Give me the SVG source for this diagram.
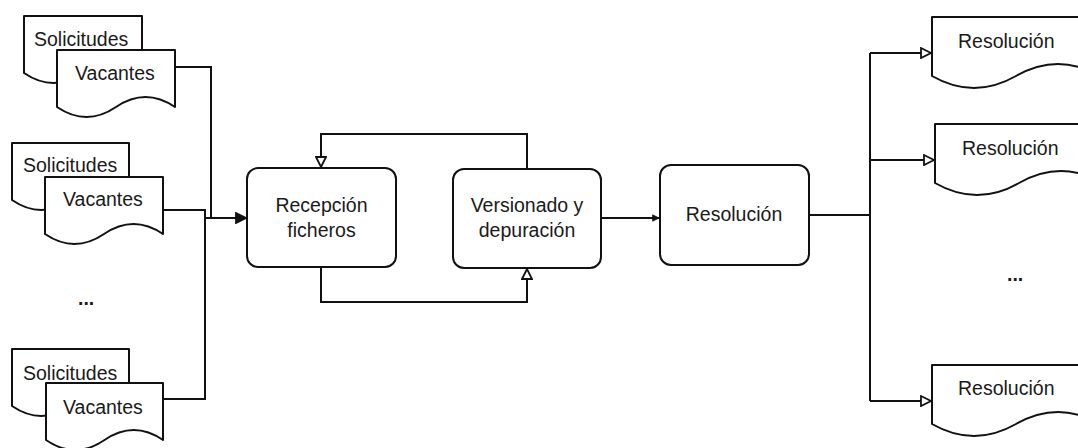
<svg xmlns="http://www.w3.org/2000/svg" width="1078" height="448" viewBox="0 0 1078 448">
  <defs>
    <style>
      .shape { fill: #ffffff; stroke: #111111; stroke-width: 2; stroke-linejoin: round; }
      .sk { fill: none; stroke: #111111; stroke-width: 1; opacity: 0.6; }
      .edge { fill: none; stroke: #111111; stroke-width: 2; }
      .lbl { font-family: "Liberation Sans", Arial, sans-serif; font-size: 19.5px; fill: #1a1a1a; }
      .dots { font-family: "Liberation Sans", Arial, sans-serif; font-size: 19.5px; font-weight: bold; fill: #1a1a1a; }
    </style>
    <marker id="open" viewBox="0 0 12 12" refX="11" refY="6" markerWidth="12" markerHeight="12" markerUnits="userSpaceOnUse" orient="auto">
      <path d="M1,1 L11,6 L1,11 Z" fill="#ffffff" stroke="#111111" stroke-width="1.8"/>
    </marker>
    <marker id="solid" viewBox="0 0 12 12" refX="11" refY="6" markerWidth="12" markerHeight="12" markerUnits="userSpaceOnUse" orient="auto">
      <path d="M1,1 L11,6 L1,11 Z" fill="#111111" stroke="#111111" stroke-width="1.8"/>
    </marker>
    <marker id="small" viewBox="0 0 10 10" refX="9" refY="5" markerWidth="8" markerHeight="8" markerUnits="userSpaceOnUse" orient="auto">
      <path d="M1,1 L9,5 L1,9 Z" fill="#111111" stroke="#111111" stroke-width="1"/>
    </marker>
  </defs>

  <!-- Left document groups -->
  <g id="sol1">
    <path class="shape" d="M24,16 L142,16 L142,73 Q112.5,53 83,73 Q53.5,93 24,73 Z"/>
    <text class="lbl" x="34" y="46">Solicitudes</text>
  </g>
  <g id="vac1">
    <path class="shape" d="M57,50 L175,50 L175,107 Q145.5,87 116,107 Q86.5,127 57,107 Z"/>
    <text class="lbl" x="75" y="80">Vacantes</text>
  </g>

  <g id="sol2">
    <path class="shape" d="M12,143 L129,143 L129,200 Q99.75,180 70.5,200 Q41.25,220 12,200 Z"/>
    <text class="lbl" x="23" y="172">Solicitudes</text>
  </g>
  <g id="vac2">
    <path class="shape" d="M45,177 L163,177 L163,234 Q133.5,214 104,234 Q74.5,254 45,234 Z"/>
    <text class="lbl" x="63" y="206">Vacantes</text>
  </g>

  <g id="dotsLeft">
    <text class="dots" x="78" y="305">...</text>
  </g>

  <g id="sol3">
    <path class="shape" d="M12,349 L129,349 L129,406 Q99.75,386 70.5,406 Q41.25,426 12,406 Z"/>
    <text class="lbl" x="23" y="380">Solicitudes</text>
  </g>
  <g id="vac3">
    <path class="shape" d="M46,383 L163,383 L163,440 Q133.75,420 104.5,440 Q75.25,460 46,440 Z"/>
    <text class="lbl" x="63" y="414">Vacantes</text>
  </g>

  <!-- Process boxes -->
  <g id="recepcion">
    <rect class="shape" x="247" y="168" width="149" height="99" rx="11" ry="11"/>
    <text class="lbl" x="321.5" y="212" text-anchor="middle">Recepción</text>
    <text class="lbl" x="321.5" y="237" text-anchor="middle">ficheros</text>
  </g>
  <g id="versionado">
    <rect class="shape" x="453" y="169" width="148" height="99" rx="11" ry="11"/>
    <text class="lbl" x="527" y="212" text-anchor="middle">Versionado y</text>
    <text class="lbl" x="527" y="237" text-anchor="middle">depuración</text>
  </g>
  <g id="resolucion">
    <rect class="shape" x="660" y="165" width="149" height="100" rx="11" ry="11"/>
    <text class="lbl" x="734" y="221" text-anchor="middle">Resolución</text>
  </g>

  <!-- Right documents -->
  <g id="res1">
    <path class="shape" d="M932,17 L1100,17 L1100,76 Q1058,52 1016,76 Q974,100 932,76 Z"/>
    <text class="lbl" x="958" y="48">Resolución</text>
  </g>
  <g id="res2">
    <path class="shape" d="M935,124 L1103,124 L1103,183 Q1061,159 1019,183 Q977,207 935,183 Z"/>
    <text class="lbl" x="962" y="155">Resolución</text>
  </g>
  <g id="dotsRight">
    <text class="dots" x="1007" y="281">...</text>
  </g>
  <g id="res3">
    <path class="shape" d="M932,365 L1100,365 L1100,424 Q1058,400 1016,424 Q974,448 932,424 Z"/>
    <text class="lbl" x="958" y="395">Resolución</text>
  </g>

  <!-- Connectors -->
  <g id="connectors">
    <!-- left inputs merging -->
    <path class="edge" d="M175,67 L211,67 L211,218"/>
    <path class="edge" d="M163,210 L205,210 L205,399 L163,399"/>
    <path class="edge" d="M205,218 L246,218" stroke-width="3" marker-end="url(#solid)"/>
    <!-- loop between Recepcion and Versionado -->
    <path class="edge" d="M527,169 L527,134 L321,134 L321,167" marker-end="url(#open)"/>
    <path class="edge" d="M321,267 L321,302 L527,302 L527,269" marker-end="url(#open)"/>
    <!-- Versionado to Resolucion -->
    <path class="edge" d="M601,218 L659,218" marker-end="url(#small)"/>
    <!-- Resolucion fan-out -->
    <path class="edge" d="M809,215 L870,215" stroke-width="3"/>
    <path class="edge" d="M870,53 L870,401"/>
    <path class="edge" d="M870,53 L931,53" marker-end="url(#open)"/>
    <path class="edge" d="M870,160 L934,160" marker-end="url(#open)"/>
    <path class="edge" d="M870,401 L931,401" marker-end="url(#open)"/>
  </g>
</svg>
